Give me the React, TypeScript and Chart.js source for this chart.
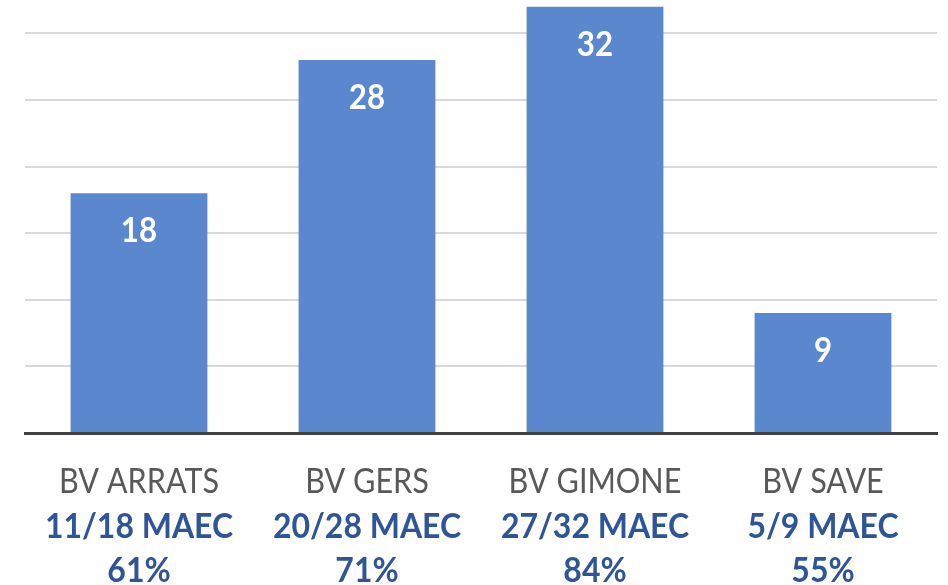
import React, { useEffect, useRef } from "react";
import { Chart, registerables } from "chart.js";

Chart.register(...registerables);

const categories = ["BV ARRATS", "BV GERS", "BV GIMONE", "BV SAVE"];
const values = [18, 28, 32, 9];
const maecLabels = ["11/18 MAEC", "20/28 MAEC", "27/32 MAEC", "5/9 MAEC"];
const pctLabels = ["61%", "71%", "84%", "55%"];

const FONT = "Lato, 'Noto Sans', sans-serif";

function condensedText(ctx: any, text: string, x: number, y: number, sx: number) {
  ctx.save();
  ctx.translate(x, y);
  ctx.scale(sx, 1);
  ctx.fillText(text, 0, 0);
  ctx.restore();
}

const labelsPlugin = {
  id: "customLabels",
  afterDatasetsDraw(chart: any) {
    const { ctx } = chart;
    const meta = chart.getDatasetMeta(0);
    ctx.save();
    ctx.fillStyle = "#ffffff";
    ctx.font = `bold 34px ${FONT}`;
    ctx.textAlign = "center";
    ctx.textBaseline = "alphabetic";
    meta.data.forEach((bar: any, i: number) => {
      condensedText(ctx, String(values[i]), bar.x, bar.y + 49, 0.92);
    });
    ctx.restore();
  },
  afterDraw(chart: any) {
    const { ctx, chartArea } = chart;
    const xs = chart.scales.x;
    ctx.save();
    ctx.textAlign = "center";
    ctx.textBaseline = "alphabetic";
    categories.forEach((c, i) => {
      const x = xs.getPixelForValue(i);
      ctx.fillStyle = "#595959";
      ctx.font = `34px ${FONT}`;
      condensedText(ctx, c, x, chartArea.bottom + 60, 0.9);
      ctx.fillStyle = "#2F5597";
      ctx.font = `bold 34px ${FONT}`;
      condensedText(ctx, maecLabels[i], x, chartArea.bottom + 105, 0.94);
      condensedText(ctx, pctLabels[i], x, chartArea.bottom + 149, 0.94);
    });
    ctx.restore();
  },
};

export default function App() {
  const ref = useRef<HTMLCanvasElement | null>(null);
  useEffect(() => {
    if (!ref.current) return;
    const chart = new Chart(ref.current, {
      type: "bar",
      data: {
        labels: categories,
        datasets: [
          {
            data: values,
            backgroundColor: "#5B87CF",
            borderWidth: 0,
            categoryPercentage: 1,
            barPercentage: 0.6,
          },
        ],
      },
      options: {
        animation: false,
        responsive: false,
        maintainAspectRatio: false,
        layout: { padding: { left: 25, right: 11, top: 0, bottom: 152 } },
        plugins: { legend: { display: false }, tooltip: { enabled: false } },
        scales: {
          x: {
            ticks: { display: false },
            grid: { display: false, drawTicks: false },
            border: { display: true, color: "#404040", width: 3 },
          },
          y: {
            min: 0,
            max: 32.5,
            ticks: { display: false, stepSize: 5 },
            grid: {
              drawTicks: false,
              lineWidth: 2,
              color: (ctx: any) =>
                ctx.tick && ctx.tick.value > 0 && ctx.tick.value % 5 === 0
                  ? "#D9D9D9"
                  : "rgba(0,0,0,0)",
            },
            border: { display: false },
          },
        },
      },
      plugins: [labelsPlugin],
    });
    return () => chart.destroy();
  }, []);
  return (
    <div style={{ position: "absolute", left: 0, top: 0, width: 948, height: 585, background: "#fff" }}>
      <canvas ref={ref} width={948} height={585} />
    </div>
  );
}
